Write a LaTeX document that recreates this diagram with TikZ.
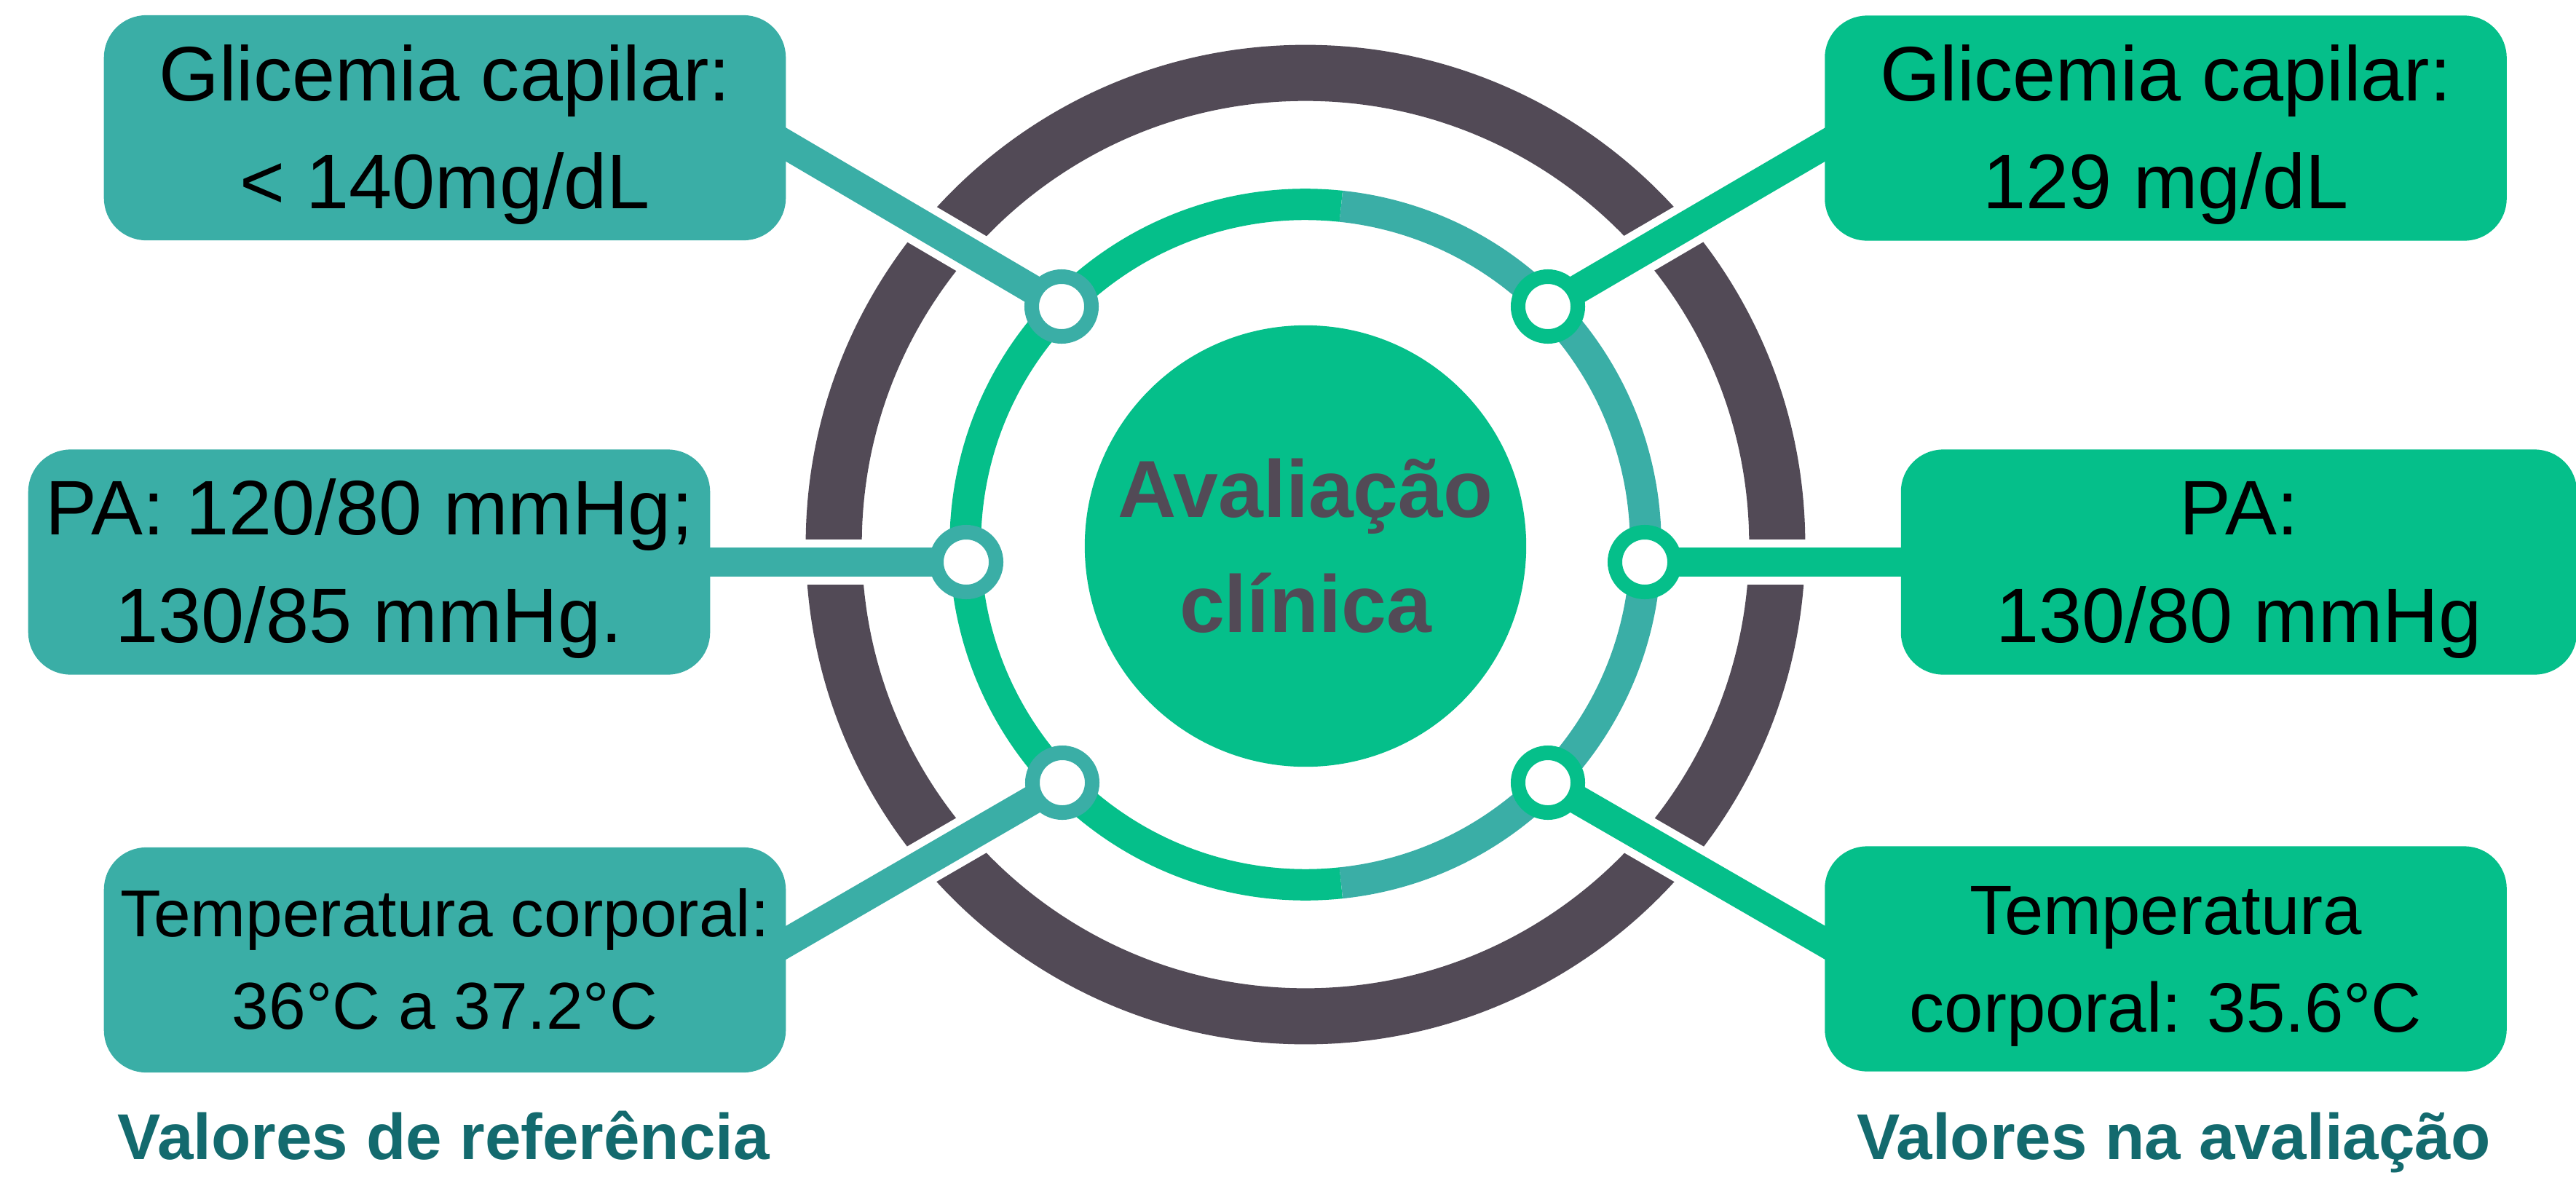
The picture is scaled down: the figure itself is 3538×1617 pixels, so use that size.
\documentclass[tikz,border=0pt]{standalone}
\usepackage{fontspec}
\setmainfont{Liberation Sans}
\usetikzlibrary{calc}

\definecolor{ringdark}{HTML}{524A56}
\definecolor{mint}{HTML}{05BF8A}
\definecolor{tealbox}{HTML}{3AAEA6}
\definecolor{footcolor}{HTML}{136A6E}

\pgfdeclarelayer{back}
\pgfsetlayers{back,main}

% two lines of a card, centred on the full line height
\newcommand{\cardtext}[2]{\rule{0pt}{0.905em}#1\\#2\rule[-0.212em]{0pt}{0pt}}

\tikzset{
  refbox/.style={rounded corners=0.58cm, fill=tealbox, minimum width=9.36cm,
    minimum height=3.09cm, inner sep=0pt, align=center,
    font=\fontsize{30.2}{42.1}\selectfont},
  evalbox/.style={refbox, fill=mint},
  knob/.style={circle, line width=0.2cm, fill=white, minimum size=0.82cm, inner sep=0pt},
  hub/.style={circle, fill=mint, minimum size=6.06cm, inner sep=0pt, align=center,
    text=ringdark, font=\fontsize{31.6}{45}\selectfont\bfseries},
  link/.style={line width=0.4cm},
  gapline/.style={white, line width=0.62cm},
  footlabel/.style={anchor=base, text=footcolor, font=\fontsize{25.3}{30}\selectfont\bfseries}
}

\begin{document}
\begin{tikzpicture}[x=0.01cm, y=-0.01cm]
  \useasboundingbox (0,0) rectangle (3538,1617);
  \coordinate (ctr) at (1793,748);

  % centre
  \node[hub] (hub) at (1793,750) {Avaliação\\clínica};

  % valores de referencia (left)
  \node[refbox] (refTL) at (611,175.5) {\cardtext{Glicemia capilar:}{< 140mg/dL}};
  \node[refbox] (refML) at (507,772) {\cardtext{PA: 120/80 mmHg;}{130/85 mmHg.}};
  \node[refbox, font=\fontsize{25.9}{36.2}\selectfont] (refBL) at (611,1318.5) {\cardtext{Temperatura corporal:}{36°C a 37.2°C}};

  % valores na avaliacao (right)
  \node[evalbox] (evTR) at (2974.5,176) {\cardtext{Glicemia capilar:}{129 mg/dL}};
  \node[evalbox, minimum width=9.28cm] (evMR) at (3075,772) {\cardtext{PA:}{130/80 mmHg}};
  \node[evalbox, font=\fontsize{27.3}{38}\selectfont] (evBR) at (2974.5,1317) {\cardtext{Temperatura}{corporal: 35.6°C}};

  % little rings on the circle
  \node[knob, draw=tealbox] (kTL) at (1458,421) {};
  \node[knob, draw=tealbox] (kML) at (1327,772) {};
  \node[knob, draw=tealbox] (kBL) at (1459,1075) {};
  \node[knob, draw=mint] (kTR) at (2126,421) {};
  \node[knob, draw=mint] (kMR) at (2259,772) {};
  \node[knob, draw=mint] (kBR) at (2126,1075) {};

  \node[footlabel] (footRef) at (609.5,1592) {Valores de referência};
  \node[footlabel] (footEval) at (2985.5,1592) {Valores na avaliação};

  \begin{pgfonlayer}{back}
    % outer dark ring, cut where the links pass
    \draw[ringdark, line width=0.77cm] (ctr) circle[radius=6.475cm];
    \draw[gapline] (kTL.center) -- ([shift={(-50,-6)}]refTL.east);
    \draw[gapline] (kML.center) -- (refML.center);
    \draw[gapline] (kBL.center) -- ([shift={(-50,5)}]refBL.east);
    \draw[gapline] (kTR.center) -- ([shift={(50,-6)}]evTR.west);
    \draw[gapline] (kMR.center) -- (evMR.center);
    \draw[gapline] (kBR.center) -- ([shift={(50,6)}]evBR.west);

    % inner ring, two colours
    \draw[mint, line width=0.43cm] ([shift={(84:4.67cm)}]ctr) arc[start angle=84, end angle=276, radius=4.67cm];
    \draw[tealbox, line width=0.43cm] ([shift={(-84:4.67cm)}]ctr) arc[start angle=-84, end angle=84, radius=4.67cm];

    % links
    \draw[link, tealbox] (kTL.center) -- ([shift={(-50,-6)}]refTL.east);
    \draw[link, tealbox] (kML.center) -- (refML.center);
    \draw[link, tealbox] (kBL.center) -- ([shift={(-50,5)}]refBL.east);
    \draw[link, mint] (kTR.center) -- ([shift={(50,-6)}]evTR.west);
    \draw[link, mint] (kMR.center) -- (evMR.center);
    \draw[link, mint] (kBR.center) -- ([shift={(50,6)}]evBR.west);
  \end{pgfonlayer}
\end{tikzpicture}
\end{document}
